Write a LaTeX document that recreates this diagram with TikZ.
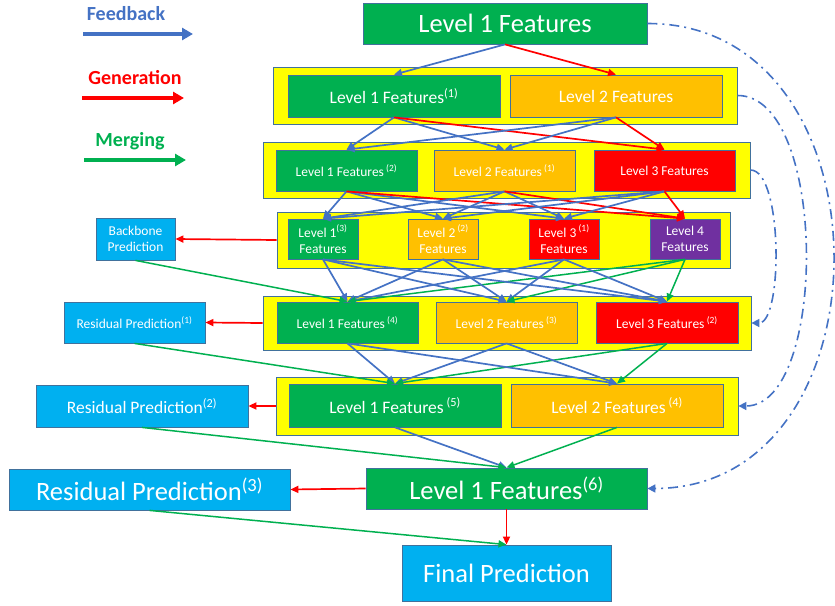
\documentclass[tikz,border=0pt]{standalone}
\usepackage{fontspec}
\setmainfont{Carlito}
\usetikzlibrary{arrows.meta}
\definecolor{featgreen}{HTML}{00B050}
\definecolor{featorange}{HTML}{FFC000}
\definecolor{featred}{HTML}{FF0000}
\definecolor{featpurple}{HTML}{7030A0}
\definecolor{predblue}{HTML}{00B0F0}
\definecolor{laneyellow}{HTML}{FFFF00}
\definecolor{edgeblue}{HTML}{41719C}
\definecolor{fbblue}{HTML}{4472C4}

\begin{document}
\begin{tikzpicture}[x=1pt,y=-1pt,
  box/.style={draw=edgeblue,line width=0.8pt,text=white,inner sep=0pt,align=center},
  lane/.style={draw=edgeblue,line width=0.8pt,fill=laneyellow,inner sep=0pt},
  fsmall/.style={font=\fontsize{13.5}{16}\selectfont},
  fmid/.style={font=\fontsize{17.5}{20}\selectfont},
  fbig/.style={font=\fontsize{26.5}{30}\selectfont},
  fb/.style={draw=fbblue,line width=1.7pt,-{Triangle[length=8pt,width=7pt]}},
  gen/.style={draw=featred,line width=1.7pt,-{Triangle[length=8pt,width=7pt]}},
  mrg/.style={draw=featgreen,line width=1.5pt,-{Triangle[length=8pt,width=7pt]}},
  skip/.style={draw=fbblue,line width=1.6pt,dash pattern=on 10pt off 5pt on 2pt off 5pt,-{Triangle[length=8pt,width=8pt]}},
  key/.style={line width=4pt,-{Triangle[length=11pt,width=12pt]}},
  keytext/.style={font=\bfseries\fontsize{20}{23}\selectfont}]
  \useasboundingbox (0,0) rectangle (835,605);

  % legend
  \node[keytext,text=fbblue] (kfb) at (126,14) {Feedback};
  \node[keytext,text=featred] (kgen) at (135,78) {Generation};
  \node[keytext,text=featgreen] (kmrg) at (130,141) {Merging};
  \coordinate (kfbA) at (83,34);  \coordinate (kfbB) at (193,34);
  \coordinate (kgenA) at (82,98); \coordinate (kgenB) at (184,98);
  \coordinate (kmrgA) at (84,160); \coordinate (kmrgB) at (186,160);
  \draw[key,fbblue] (kfbA) -- (kfbB);
  \draw[key,featred] (kgenA) -- (kgenB);
  \draw[key,featgreen] (kmrgA) -- (kmrgB);

  % lanes
  \node[lane,minimum width=464pt,minimum height=57pt] (lane1) at (505,95.5) {};
  \node[lane,minimum width=487pt,minimum height=56pt] (lane2) at (506.5,170) {};
  \node[lane,minimum width=453pt,minimum height=56pt] (lane3) at (503.5,240) {};
  \node[lane,minimum width=488pt,minimum height=54pt] (lane4) at (507,323) {};
  \node[lane,minimum width=462pt,minimum height=58pt] (lane5) at (507,406) {};

  % features
  \node[box,fbig,fill=featgreen,minimum width=284pt,minimum height=41pt] (top) at (505,23.5) {Level 1 Features};
  \node[box,fmid,fill=featgreen,minimum width=212pt,minimum height=42pt] (a1) at (394,96) {Level 1 Features\textsuperscript{(1)}};
  \node[box,fmid,fill=featorange,minimum width=212pt,minimum height=42pt] (a2) at (616,96) {Level 2 Features};
  \node[box,fsmall,fill=featgreen,minimum width=141pt,minimum height=41pt] (b1) at (346.5,170.5) {Level 1 Features\,\textsuperscript{(2)}};
  \node[box,fsmall,fill=featorange,minimum width=141pt,minimum height=41pt] (b2) at (504.5,170.5) {Level 2 Features\,\textsuperscript{(1)}};
  \node[box,fsmall,fill=featred,minimum width=141pt,minimum height=41pt] (b3) at (664.5,170.5) {Level 3 Features};
  \node[box,fsmall,fill=featgreen,minimum width=70pt,minimum height=40pt] (c1) at (323,239) {Level 1\textsuperscript{(3)}\\Features};
  \node[box,fsmall,fill=featorange,minimum width=70pt,minimum height=40pt] (c2) at (443,239) {Level 2\,\textsuperscript{(2)}\\Features};
  \node[box,fsmall,fill=featred,minimum width=70pt,minimum height=40pt] (c3) at (564,239) {Level 3\,\textsuperscript{(1)}\\Features};
  \node[box,fsmall,fill=featpurple,minimum width=70pt,minimum height=40pt] (c4) at (685,239) {Level 4\\Features};
  \node[box,fsmall,fill=featgreen,minimum width=141pt,minimum height=41pt] (d1) at (347.5,322.5) {Level 1 Features\,\textsuperscript{(4)}};
  \node[box,fsmall,fill=featorange,minimum width=141pt,minimum height=41pt] (d2) at (506.5,322.5) {Level 2 Features\,\textsuperscript{(3)}};
  \node[box,fsmall,fill=featred,minimum width=142pt,minimum height=41pt] (d3) at (667,322.5) {Level 3 Features\,\textsuperscript{(2)}};
  \node[box,fmid,fill=featgreen,minimum width=212pt,minimum height=43pt] (e1) at (395,405.5) {Level 1 Features\,\textsuperscript{(5)}};
  \node[box,fmid,fill=featorange,minimum width=212pt,minimum height=43pt] (e2) at (617,405.5) {Level 2 Features\,\textsuperscript{(4)}};
  \node[box,fbig,fill=featgreen,minimum width=281pt,minimum height=41pt] (f1) at (506.5,488.5) {Level 1 Features\textsuperscript{(6)}};
  \node[box,fbig,fill=predblue,minimum width=209pt,minimum height=56pt] (fp) at (506.5,573) {Final Prediction};

  % predictions
  \node[box,fsmall,fill=predblue,minimum width=79pt,minimum height=42pt] (bp) at (135.5,239) {Backbone\\Prediction};
  \node[box,fsmall,fill=predblue,minimum width=141pt,minimum height=41pt] (rp1) at (134.5,322.5) {Residual Prediction\textsuperscript{(1)}};
  \node[box,fmid,fill=predblue,minimum width=212pt,minimum height=42pt] (rp2) at (142,406) {Residual Prediction\textsuperscript{(2)}};
  \node[box,fbig,fill=predblue,minimum width=281pt,minimum height=41pt] (rp3) at (149.5,489.5) {Residual Prediction\textsuperscript{(3)}};

  % connections
  \draw[fb] (top.south) -- (a1.north);
  \draw[gen] (top.south) -- (a2.north);
  \foreach \s in {a1,a2} {
    \foreach \t in {b1,b2} \draw[fb] (\s.south) -- (\t.north);
    \draw[gen] (\s.south) -- (b3.north);
  }
  \foreach \s in {b1,b2,b3} {
    \foreach \t in {c1,c2,c3} \draw[fb] (\s.south) -- (\t.north);
    \draw[gen] (\s.south) -- (c4.north);
  }
  \foreach \t in {d1,d2,d3} {
    \foreach \s in {c1,c2,c3} \draw[fb] (\s.south) -- (\t.north);
    \draw[mrg] (c4.south) -- (\t.north);
  }
  \draw[mrg] (bp.south) -- (d1.north);
  \foreach \t in {e1,e2} {
    \foreach \s in {d1,d2} \draw[fb] (\s.south) -- (\t.north);
    \draw[mrg] (d3.south) -- (\t.north);
  }
  \draw[mrg] (rp1.south) -- (e1.north);
  \draw[fb] (e1.south) -- (f1.north);
  \draw[mrg] (e2.south) -- (f1.north);
  \draw[mrg] (rp2.south) -- (f1.north);
  \draw[gen] (f1.south) -- (fp.north);
  \draw[mrg] (rp3.south) -- (fp.north);

  \draw[gen] (lane3.west) -- (bp.east);
  \draw[gen] (lane4.west) -- (rp1.east);
  \draw[gen] (lane5.west) -- (rp2.east);
  \draw[gen] (f1.west) -- (rp3.east);

  % skip feedback
  \draw[skip] (top.east) .. controls (895,23) and (895,488) .. (f1.east);
  \draw[skip] (lane1.east) .. controls (828,95) and (828,406) .. (lane5.east);
  \draw[skip] (lane2.east) .. controls (783,170) and (783,323) .. (lane4.east);
\end{tikzpicture}
\end{document}
